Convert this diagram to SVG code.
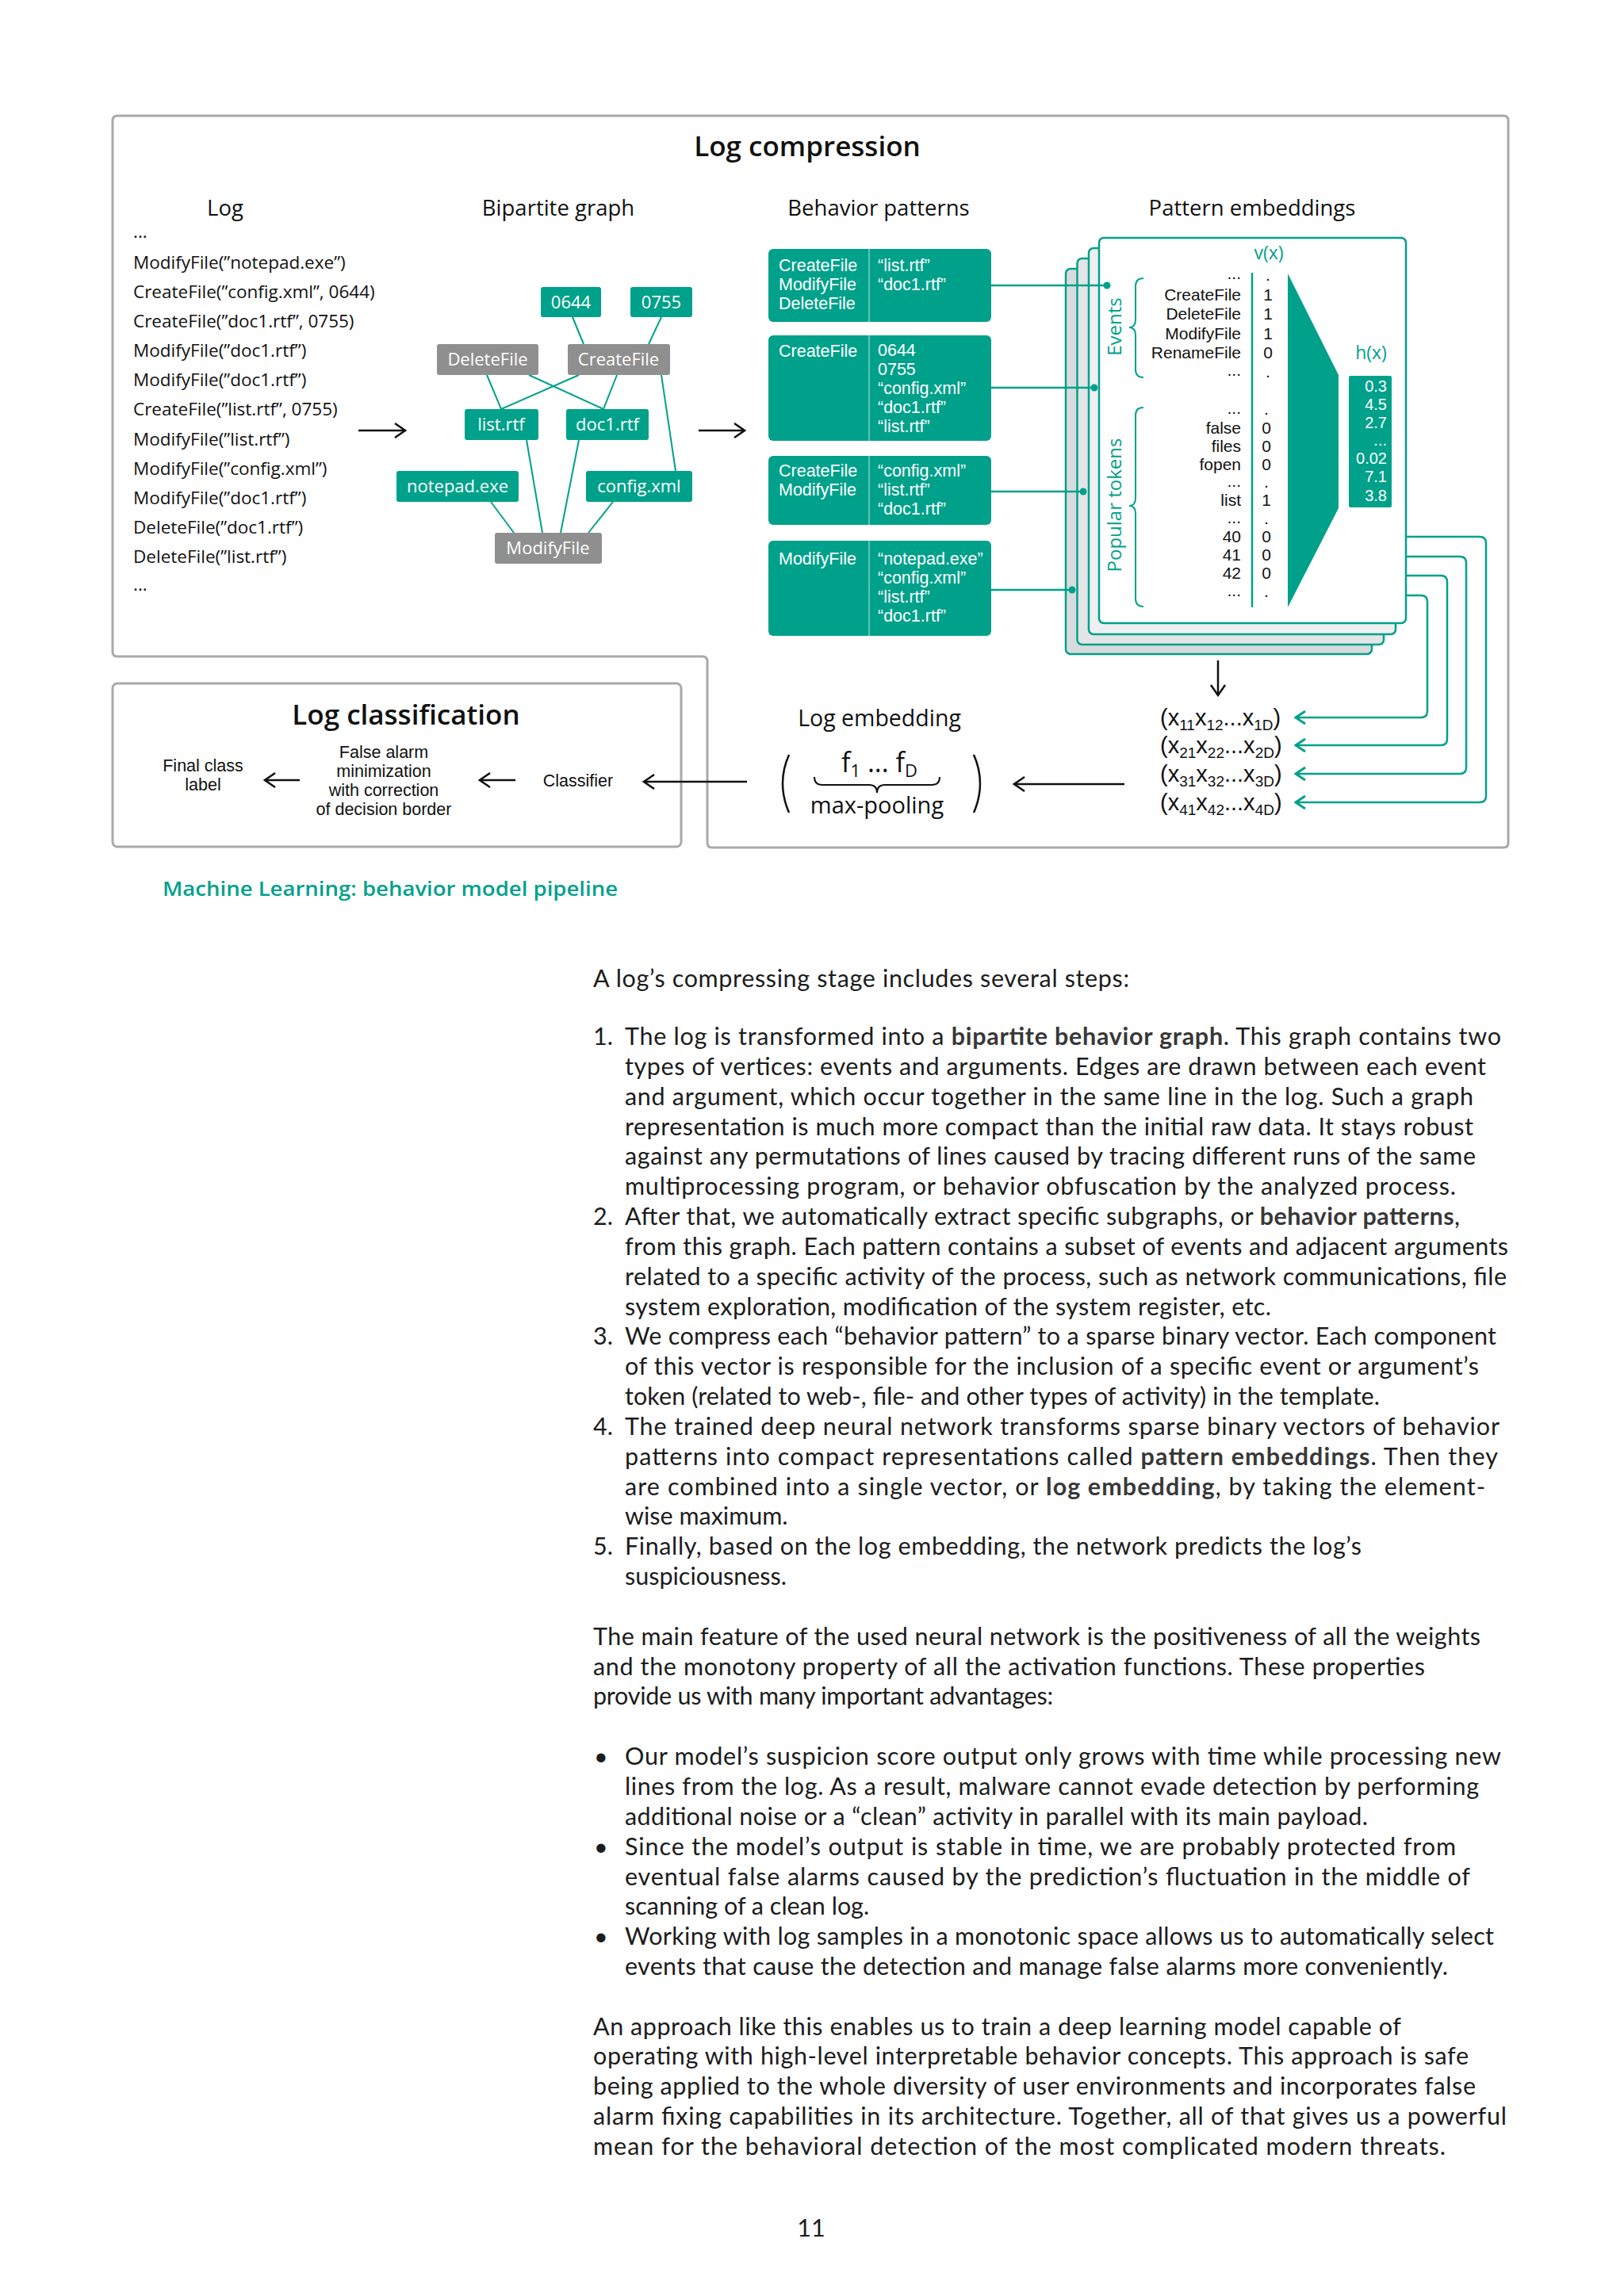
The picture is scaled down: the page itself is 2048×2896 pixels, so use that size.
<svg xmlns="http://www.w3.org/2000/svg" width="2048" height="2896" viewBox="0 0 2048 2896">
<style>
text{font-family:"Open Sans","Liberation Sans",sans-serif;fill:#111}
.hd{font-size:27.5px}
.ttl{font-size:35px;font-weight:600}
.log{font-size:22.5px}
.nd{font-size:22px;fill:#fff}
.bp{font-family:"Liberation Sans",Arial,sans-serif;font-size:21.5px;fill:#fff}
.cd{font-family:"Liberation Sans",Arial,sans-serif;font-size:21px;text-anchor:end}
.vv{font-family:"Liberation Sans",Arial,sans-serif;font-size:21px;text-anchor:middle}
.tl{fill:#00a18a}
.hv{font-family:"Liberation Sans",Arial,sans-serif;font-size:20px;fill:#fff;text-anchor:end}
.sm{font-family:"Liberation Sans",Arial,sans-serif;font-size:21.5px;text-anchor:middle}
.rw{font-family:"Liberation Sans",Arial,sans-serif;font-size:29px}
.body{font-family:Lato,"Open Sans",sans-serif;font-size:30.5px;fill:#1c1c1c}
.bd{font-weight:700;fill:#383838}
.teal{fill:#00a18a}
.gray{fill:#8f8f8f}
.edge{stroke:#00a18a;stroke-width:2;fill:none}
.tc{stroke:#00a18a;stroke-width:2.5;fill:none}
.blk{stroke:#111;stroke-width:2.5;fill:none}
.frame{stroke:#a9a9a9;stroke-width:3;fill:none}
.card{stroke:#00a18a;stroke-width:2.5}
</style>
<defs>
<marker id="ak" markerUnits="userSpaceOnUse" markerWidth="16" markerHeight="22" refX="14" refY="11" orient="auto"><path d="M1,2 L14,11 L1,20" fill="none" stroke="#111" stroke-width="2.5"/></marker>
<marker id="at" markerUnits="userSpaceOnUse" markerWidth="16" markerHeight="22" refX="14" refY="11" orient="auto"><path d="M2,3 L14,11 L2,19" fill="none" stroke="#00a18a" stroke-width="3"/></marker>
</defs>
<rect width="2048" height="2896" fill="#fff"/>

<g id="frames">
<path class="frame" d="M148,146 H1896 Q1902,146 1902,152 V1063 Q1902,1069 1896,1069 H898 Q892,1069 892,1063 V834 Q892,828 886,828 H148 Q142,828 142,822 V152 Q142,146 148,146 Z"/>
<rect class="frame" x="142" y="862" width="717" height="206" rx="6"/>
</g>

<g id="titles">
<text class="ttl" x="1018" y="197" text-anchor="middle">Log compression</text>
<text class="hd" x="284" y="272" text-anchor="middle">Log</text>
<text class="hd" x="704" y="272" text-anchor="middle">Bipartite graph</text>
<text class="hd" x="1108" y="272" text-anchor="middle">Behavior patterns</text>
<text class="hd" x="1579" y="272" text-anchor="middle">Pattern embeddings</text>
</g>

<g id="log">
<text class="log" x="168" y="300">...</text>
<text class="log" x="168" y="339">ModifyFile(”notepad.exe”)</text>
<text class="log" x="168" y="376">CreateFile(”config.xml”, 0644)</text>
<text class="log" x="168" y="413">CreateFile(”doc1.rtf”, 0755)</text>
<text class="log" x="168" y="450">ModifyFile(”doc1.rtf”)</text>
<text class="log" x="168" y="487">ModifyFile(”doc1.rtf”)</text>
<text class="log" x="168" y="524">CreateFile(”list.rtf”, 0755)</text>
<text class="log" x="168" y="562">ModifyFile(”list.rtf”)</text>
<text class="log" x="168" y="599">ModifyFile(”config.xml”)</text>
<text class="log" x="168" y="636">ModifyFile(”doc1.rtf”)</text>
<text class="log" x="168" y="673">DeleteFile(”doc1.rtf”)</text>
<text class="log" x="168" y="710">DeleteFile(”list.rtf”)</text>
<text class="log" x="168" y="745">...</text>
</g>

<g id="connectors">
<line class="edge" x1="722" y1="400" x2="736" y2="434"/>
<line class="edge" x1="834" y1="400" x2="818" y2="434"/>
<line class="edge" x1="614" y1="473" x2="632" y2="516"/>
<line class="edge" x1="667" y1="473" x2="761" y2="516"/>
<line class="edge" x1="730" y1="473" x2="632" y2="516"/>
<line class="edge" x1="778" y1="473" x2="761" y2="516"/>
<line class="edge" x1="834" y1="473" x2="852" y2="594"/>
<line class="edge" x1="664" y1="555" x2="684" y2="672"/>
<line class="edge" x1="730" y1="555" x2="707" y2="672"/>
<line class="edge" x1="619" y1="633" x2="648" y2="672"/>
<line class="edge" x1="773" y1="633" x2="742" y2="672"/>
<line class="blk" x1="452" y1="543" x2="511" y2="543" marker-end="url(#ak)"/>
<line class="blk" x1="881" y1="543" x2="939" y2="543" marker-end="url(#ak)"/>
<line class="blk" x1="1536" y1="833" x2="1536" y2="877" marker-end="url(#ak)"/>
<line class="blk" x1="1418" y1="989" x2="1279" y2="989" marker-end="url(#ak)"/>
<line class="blk" x1="942" y1="986" x2="812" y2="986" marker-end="url(#ak)"/>
<line class="blk" x1="650" y1="984" x2="605" y2="984" marker-end="url(#ak)"/>
<line class="blk" x1="378" y1="984" x2="334" y2="984" marker-end="url(#ak)"/>
</g>

<g id="n0644"><rect class="teal" x="682" y="362" width="76" height="38" rx="3"/><text class="nd" x="720" y="389" text-anchor="middle">0644</text></g>
<g id="n0755"><rect class="teal" x="795" y="362" width="78" height="38" rx="3"/><text class="nd" x="834" y="389" text-anchor="middle">0755</text></g>
<g id="nDeleteFile"><rect class="gray" x="551" y="434" width="128" height="39" rx="3"/><text class="nd" x="615" y="461" text-anchor="middle">DeleteFile</text></g>
<g id="nCreateFile"><rect class="gray" x="716" y="434" width="129" height="39" rx="3"/><text class="nd" x="780" y="461" text-anchor="middle">CreateFile</text></g>
<g id="nListRtf"><rect class="teal" x="586" y="516" width="93" height="39" rx="3"/><text class="nd" x="632" y="543" text-anchor="middle">list.rtf</text></g>
<g id="nDoc1Rtf"><rect class="teal" x="714" y="516" width="104" height="39" rx="3"/><text class="nd" x="766" y="543" text-anchor="middle">doc1.rtf</text></g>
<g id="nNotepad"><rect class="teal" x="500" y="594" width="154" height="39" rx="3"/><text class="nd" x="577" y="621" text-anchor="middle">notepad.exe</text></g>
<g id="nConfig"><rect class="teal" x="739" y="594" width="134" height="39" rx="3"/><text class="nd" x="806" y="621" text-anchor="middle">config.xml</text></g>
<g id="nModifyFile"><rect class="gray" x="624" y="672" width="135" height="39" rx="3"/><text class="nd" x="691" y="699" text-anchor="middle">ModifyFile</text></g>

<g id="bp1"><rect class="teal" x="969" y="314" width="281" height="92" rx="6"/><line x1="1096" y1="314" x2="1096" y2="406" stroke="#5cc4b3" stroke-width="2"/>
<text class="bp" x="982" y="342">CreateFile</text><text class="bp" x="982" y="366">ModifyFile</text><text class="bp" x="982" y="390">DeleteFile</text>
<text class="bp" x="1107" y="342">“list.rtf”</text><text class="bp" x="1107" y="366">“doc1.rtf”</text></g>
<g id="bp2"><rect class="teal" x="969" y="423" width="281" height="133" rx="6"/><line x1="1096" y1="423" x2="1096" y2="556" stroke="#5cc4b3" stroke-width="2"/>
<text class="bp" x="982" y="450">CreateFile</text>
<text class="bp" x="1107" y="449">0644</text><text class="bp" x="1107" y="473">0755</text><text class="bp" x="1107" y="497">“config.xml”</text><text class="bp" x="1107" y="521">“doc1.rtf”</text><text class="bp" x="1107" y="545">“list.rtf”</text></g>
<g id="bp3"><rect class="teal" x="969" y="575" width="281" height="87" rx="6"/><line x1="1096" y1="575" x2="1096" y2="662" stroke="#5cc4b3" stroke-width="2"/>
<text class="bp" x="982" y="601">CreateFile</text><text class="bp" x="982" y="625">ModifyFile</text>
<text class="bp" x="1107" y="601">“config.xml”</text><text class="bp" x="1107" y="625">“list.rtf”</text><text class="bp" x="1107" y="649">“doc1.rtf”</text></g>
<g id="bp4"><rect class="teal" x="969" y="682" width="281" height="120" rx="6"/><line x1="1096" y1="682" x2="1096" y2="802" stroke="#5cc4b3" stroke-width="2"/>
<text class="bp" x="982" y="712">ModifyFile</text>
<text class="bp" x="1107" y="712">“notepad.exe”</text><text class="bp" x="1107" y="736">“config.xml”</text><text class="bp" x="1107" y="760">“list.rtf”</text><text class="bp" x="1107" y="784">“doc1.rtf”</text></g>

<g id="cards">
<rect class="card" x="1344" y="339" width="386" height="486" rx="6" fill="#d8dbdd"/>
<rect class="card" x="1358.5" y="326" width="386.5" height="487" rx="6" fill="#e3e5e7"/>
<rect class="card" x="1373" y="313" width="387" height="487" rx="6" fill="#eef0f1"/>
<rect class="card" x="1386" y="300" width="387" height="486" rx="6" fill="#fff"/>
</g>
<g id="bp-links">
<line class="tc" x1="1250" y1="360" x2="1396" y2="360"/><circle cx="1396" cy="360" r="4.5" fill="#00a18a"/>
<line class="tc" x1="1250" y1="489" x2="1380" y2="489"/><circle cx="1380" cy="489" r="4.5" fill="#00a18a"/>
<line class="tc" x1="1250" y1="620" x2="1366" y2="620"/><circle cx="1366" cy="620" r="4.5" fill="#00a18a"/>
<line class="tc" x1="1250" y1="744" x2="1352" y2="744"/><circle cx="1352" cy="744" r="4.5" fill="#00a18a"/>
</g>
<g id="embedding">
<text class="tl" x="1600" y="327" font-size="23" text-anchor="middle">v(x)</text>
<line x1="1579" y1="344" x2="1579" y2="766" stroke="#00a18a" stroke-width="2.5"/>
<path class="edge" d="M1442,351 q-10,0 -10,10 v42 q0,10 -8,10 q8,0 8,10 v43 q0,10 10,10"/>
<path class="edge" d="M1442,514 q-10,0 -10,10 v104 q0,10 -8,10 q8,0 8,10 v107 q0,10 10,10"/>
<text class="tl" font-size="24" text-anchor="middle" transform="translate(1414,412) rotate(-90)">Events</text>
<text class="tl" font-size="24" text-anchor="middle" transform="translate(1414,637) rotate(-90)">Popular tokens</text>
<text class="cd" x="1565" y="352">...</text>
<text class="cd" x="1565" y="379">CreateFile</text>
<text class="cd" x="1565" y="403">DeleteFile</text>
<text class="cd" x="1565" y="428">ModifyFile</text>
<text class="cd" x="1565" y="452">RenameFile</text>
<text class="cd" x="1565" y="474">...</text>
<text class="cd" x="1565" y="522">...</text>
<text class="cd" x="1565" y="547">false</text>
<text class="cd" x="1565" y="570">files</text>
<text class="cd" x="1565" y="593">fopen</text>
<text class="cd" x="1565" y="614">...</text>
<text class="cd" x="1565" y="638">list</text>
<text class="cd" x="1565" y="660">...</text>
<text class="cd" x="1565" y="684">40</text>
<text class="cd" x="1565" y="707">41</text>
<text class="cd" x="1565" y="730">42</text>
<text class="cd" x="1565" y="752">...</text>
<text class="vv" x="1599" y="354">.</text>
<text class="vv" x="1599" y="379">1</text>
<text class="vv" x="1599" y="403">1</text>
<text class="vv" x="1599" y="428">1</text>
<text class="vv" x="1599" y="452">0</text>
<text class="vv" x="1599" y="476">.</text>
<text class="vv" x="1597" y="523">.</text>
<text class="vv" x="1597" y="547">0</text>
<text class="vv" x="1597" y="570">0</text>
<text class="vv" x="1597" y="593">0</text>
<text class="vv" x="1597" y="615">.</text>
<text class="vv" x="1597" y="638">1</text>
<text class="vv" x="1597" y="661">.</text>
<text class="vv" x="1597" y="684">0</text>
<text class="vv" x="1597" y="707">0</text>
<text class="vv" x="1597" y="730">0</text>
<text class="vv" x="1597" y="753">.</text>
<polygon points="1624,345 1688,473 1688,641 1624,766" fill="#00a18a"/>
<text class="tl" x="1729" y="453" font-size="23" text-anchor="middle">h(x)</text>
<rect x="1701" y="474" width="54" height="166" rx="2" fill="#00a18a"/>
<text class="hv" x="1749" y="494">0.3</text>
<text class="hv" x="1749" y="517">4.5</text>
<text class="hv" x="1749" y="540">2.7</text>
<text class="hv" x="1749" y="562">...</text>
<text class="hv" x="1749" y="585">0.02</text>
<text class="hv" x="1749" y="608">7.1</text>
<text class="hv" x="1749" y="632">3.8</text>
</g>

<g id="emb-links">
<path class="tc" d="M1773,751 H1792 Q1800,751 1800,759 V897 Q1800,905 1792,905 H1634" marker-end="url(#at)"/>
<path class="tc" d="M1773,726 H1817 Q1825,726 1825,734 V932 Q1825,940 1817,940 H1634" marker-end="url(#at)"/>
<path class="tc" d="M1773,702 H1841 Q1849,702 1849,710 V968 Q1849,976 1841,976 H1634" marker-end="url(#at)"/>
<path class="tc" d="M1773,677 H1866 Q1874,677 1874,685 V1004 Q1874,1012 1866,1012 H1634" marker-end="url(#at)"/>
</g>

<g id="rows">
<text class="rw" x="1463" y="915">(x<tspan font-size="19" dy="6">11</tspan><tspan dy="-6">x</tspan><tspan font-size="19" dy="6">12</tspan><tspan dy="-6">...x</tspan><tspan font-size="19" dy="6">1D</tspan><tspan dy="-6">)</tspan></text>
<text class="rw" x="1463" y="950">(x<tspan font-size="19" dy="6">21</tspan><tspan dy="-6">x</tspan><tspan font-size="19" dy="6">22</tspan><tspan dy="-6">...x</tspan><tspan font-size="19" dy="6">2D</tspan><tspan dy="-6">)</tspan></text>
<text class="rw" x="1463" y="986">(x<tspan font-size="19" dy="6">31</tspan><tspan dy="-6">x</tspan><tspan font-size="19" dy="6">32</tspan><tspan dy="-6">...x</tspan><tspan font-size="19" dy="6">3D</tspan><tspan dy="-6">)</tspan></text>
<text class="rw" x="1463" y="1022">(x<tspan font-size="19" dy="6">41</tspan><tspan dy="-6">x</tspan><tspan font-size="19" dy="6">42</tspan><tspan dy="-6">...x</tspan><tspan font-size="19" dy="6">4D</tspan><tspan dy="-6">)</tspan></text>
</g>

<g id="log-embedding">
<text x="1109" y="916" font-size="28.5" text-anchor="middle">Log embedding</text>
<path class="blk" d="M995,952 Q979,988 995,1025"/>
<path class="blk" d="M1228,952 Q1244,988 1228,1025"/>
<text x="1109" y="974" font-size="34" text-anchor="middle">f<tspan font-size="22" dy="6">1</tspan><tspan dy="-6"> ... f</tspan><tspan font-size="22" dy="6">D</tspan></text>
<path d="M1027,980 q0,10 10,10 h59 q10,0 10,10 q0,-10 10,-10 h59 q10,0 10,-10" fill="none" stroke="#111" stroke-width="2"/>
<text x="1106" y="1026" font-size="29" text-anchor="middle">max-pooling</text>
</g>

<g id="classification">
<text class="ttl" x="512" y="914" text-anchor="middle">Log classification</text>
<text class="sm" x="256" y="973">Final class</text>
<text class="sm" x="256" y="997">label</text>
<text class="sm" x="484" y="956">False alarm</text>
<text class="sm" x="484" y="980">minimization</text>
<text class="sm" x="484" y="1004">with correction</text>
<text class="sm" x="484" y="1028">of decision border</text>
<text class="sm" x="729" y="992">Classifier</text>
</g>

<text x="205" y="1130" font-size="26" font-weight="600" style="fill:#00a18a" textLength="574" lengthAdjust="spacingAndGlyphs">Machine Learning: behavior model pipeline</text>

<g id="body">
<text class="body" x="748" y="1245" textLength="676">A log’s compressing stage includes several steps:</text>
<text class="body" x="748" y="1318">1.</text>
<text class="body" x="788" y="1318" textLength="1105">The log is transformed into a <tspan class="bd">bipartite behavior graph</tspan>. This graph contains two</text>
<text class="body" x="788" y="1356" textLength="1086">types of vertices: events and arguments. Edges are drawn between each event</text>
<text class="body" x="788" y="1394" textLength="1070">and argument, which occur together in the same line in the log. Such a graph</text>
<text class="body" x="788" y="1432" textLength="1070">representation is much more compact than the initial raw data. It stays robust</text>
<text class="body" x="788" y="1469" textLength="1073">against any permutations of lines caused by tracing different runs of the same</text>
<text class="body" x="788" y="1507" textLength="1048">multiprocessing program, or behavior obfuscation by the analyzed process.</text>
<text class="body" x="748" y="1545">2.</text>
<text class="body" x="788" y="1545" textLength="1053">After that, we automatically extract specific subgraphs, or <tspan class="bd">behavior patterns</tspan>,</text>
<text class="body" x="788" y="1583" textLength="1114">from this graph. Each pattern contains a subset of events and adjacent arguments</text>
<text class="body" x="788" y="1621" textLength="1112">related to a specific activity of the process, such as network communications, file</text>
<text class="body" x="788" y="1659" textLength="815">system exploration, modification of the system register, etc.</text>
<text class="body" x="748" y="1696">3.</text>
<text class="body" x="788" y="1696" textLength="1099">We compress each “behavior pattern” to a sparse binary vector. Each component</text>
<text class="body" x="788" y="1734" textLength="1077">of this vector is responsible for the inclusion of a specific event or argument’s</text>
<text class="body" x="788" y="1772" textLength="952">token (related to web-, file- and other types of activity) in the template.</text>
<text class="body" x="748" y="1810">4.</text>
<text class="body" x="788" y="1810" textLength="1103">The trained deep neural network transforms sparse binary vectors of behavior</text>
<text class="body" x="788" y="1848" textLength="1101">patterns into compact representations called <tspan class="bd">pattern embeddings</tspan>. Then they</text>
<text class="body" x="788" y="1886" textLength="1085">are combined into a single vector, or <tspan class="bd">log embedding</tspan>, by taking the element-</text>
<text class="body" x="788" y="1923">wise maximum.</text>
<text class="body" x="748" y="1961">5.</text>
<text class="body" x="788" y="1961" textLength="929">Finally, based on the log embedding, the network predicts the log’s</text>
<text class="body" x="788" y="1999">suspiciousness.</text>
<text class="body" x="748" y="2075" textLength="1119">The main feature of the used neural network is the positiveness of all the weights</text>
<text class="body" x="748" y="2113" textLength="1049">and the monotony property of all the activation functions. These properties</text>
<text class="body" x="748" y="2150" textLength="580">provide us with many important advantages:</text>
<text class="body" x="749" y="2226" font-size="32">•</text>
<text class="body" x="788" y="2226" textLength="1105">Our model’s suspicion score output only grows with time while processing new</text>
<text class="body" x="788" y="2264" textLength="1077">lines from the log. As a result, malware cannot evade detection by performing</text>
<text class="body" x="788" y="2302" textLength="937">additional noise or a “clean” activity in parallel with its main payload.</text>
<text class="body" x="749" y="2340" font-size="32">•</text>
<text class="body" x="788" y="2340" textLength="1048">Since the model’s output is stable in time, we are probably protected from</text>
<text class="body" x="788" y="2378" textLength="1066">eventual false alarms caused by the prediction’s fluctuation in the middle of</text>
<text class="body" x="788" y="2415">scanning of a clean log.</text>
<text class="body" x="749" y="2453" font-size="32">•</text>
<text class="body" x="788" y="2453" textLength="1096">Working with log samples in a monotonic space allows us to automatically select</text>
<text class="body" x="788" y="2491" textLength="1038">events that cause the detection and manage false alarms more conveniently.</text>
<text class="body" x="748" y="2567" textLength="1019">An approach like this enables us to train a deep learning model capable of</text>
<text class="body" x="748" y="2604" textLength="1104">operating with high-level interpretable behavior concepts. This approach is safe</text>
<text class="body" x="748" y="2642" textLength="1113">being applied to the whole diversity of user environments and incorporates false</text>
<text class="body" x="748" y="2680" textLength="1152">alarm fixing capabilities in its architecture. Together, all of that gives us a powerful</text>
<text class="body" x="748" y="2718" textLength="1075">mean for the behavioral detection of the most complicated modern threats.</text>
<text class="body" x="1023" y="2821" text-anchor="middle">11</text>
</g>
</svg>
